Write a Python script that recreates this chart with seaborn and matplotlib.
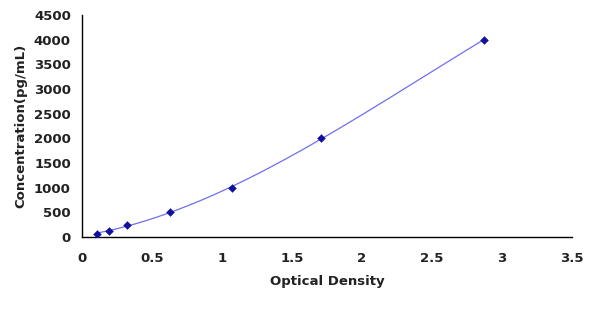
import numpy as np
import pandas as pd
import matplotlib
matplotlib.use("Agg")
import matplotlib.pyplot as plt
import seaborn as sns

od = [0.107, 0.19, 0.32, 0.63, 1.07, 1.71, 2.87]
conc = [62.5, 125, 250, 500, 1000, 2000, 4000]
xticks = [0, 0.5, 1, 1.5, 2, 2.5, 3, 3.5]
yticks = [0, 500, 1000, 1500, 2000, 2500, 3000, 3500, 4000, 4500]

sns.set_style("white")
plt.rcParams['font.family'] = ['DejaVu Sans']

df = pd.DataFrame({"od": od, "conc": conc})
coef = np.polyfit(df["od"], df["conc"], 3)
xs = np.linspace(min(od), max(od), 200)
fit = pd.DataFrame({"od": xs, "conc": np.polyval(coef, xs)})

fig = plt.figure(figsize=(6, 3.18), dpi=100)
ax = fig.add_axes([82/600, 1-237/318, 490/600, 222/318])
sns.lineplot(data=fit, x="od", y="conc", ax=ax, color="#6f6ff0", linewidth=0.9)
sns.scatterplot(data=df, x="od", y="conc", ax=ax, marker="D", s=16,
                color="#1010a0", edgecolor="#1010a0", zorder=3)

ax.set_xlim(0, 3.5)
ax.set_ylim(0, 4500)
ax.set_xticks(xticks)
ax.set_xticklabels([f"{t:g}" for t in xticks])
ax.set_yticks(yticks)
ax.set_yticklabels([str(t) for t in yticks])
for s in ["top", "right"]:
    ax.spines[s].set_visible(False)
for s in ["left", "bottom"]:
    ax.spines[s].set_color("black")
    ax.spines[s].set_linewidth(1.0)
ax.tick_params(axis="x", direction="in", length=4, width=1, colors="black", labelsize=9.5, pad=11)
ax.tick_params(axis="y", direction="inout", length=6, width=1, colors="black", labelsize=9.5, pad=5)
for lab in ax.get_xticklabels() + ax.get_yticklabels():
    lab.set_fontweight("bold")
    lab.set_color("#222222")
ax.set_xlabel("Optical Density", fontsize=9.5, fontweight="bold", labelpad=7, color="#222222")
ax.set_ylabel("Concentration(pg/mL)", fontsize=9.5, fontweight="bold", labelpad=5, color="#222222")
fig.savefig("out.png", dpi=100)
